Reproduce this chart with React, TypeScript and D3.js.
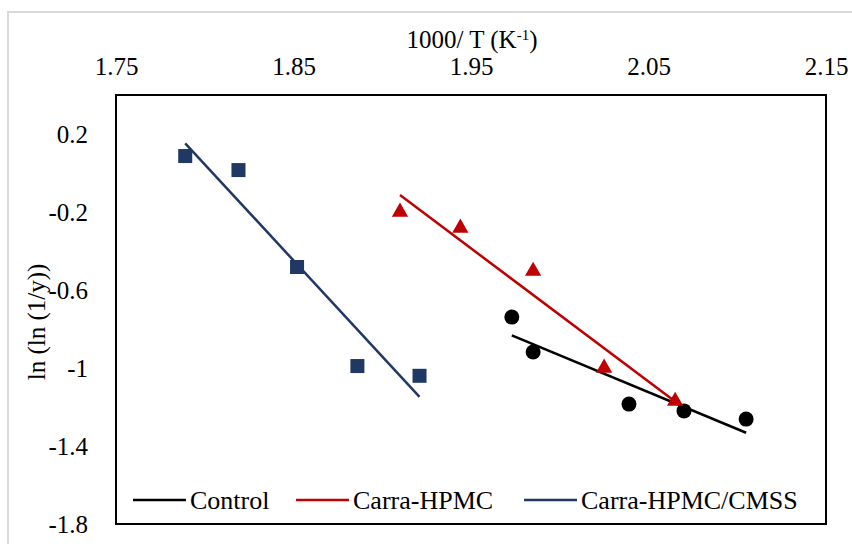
import React, { useEffect, useRef } from 'react';
import * as d3 from 'd3';

// x: 1000/T values, y: ln(ln(1/y)) values
const controlX = [1.973, 1.985, 2.039, 2.070, 2.105];
const controlY = [-0.739, -0.918, -1.185, -1.22, -1.262];

const hpmcX = [1.910, 1.944, 1.985, 2.025, 2.065];
const hpmcY = [-0.2, -0.282, -0.503, -1.0, -1.17];

const cmssX = [1.789, 1.819, 1.852, 1.886, 1.921];
const cmssY = [0.087, 0.015, -0.482, -0.99, -1.04];

const xTicks = [1.75, 1.85, 1.95, 2.05, 2.15];
const yTicks = [0.2, -0.2, -0.6, -1, -1.4, -1.8];

const seriesNames = ['Control', 'Carra-HPMC', 'Carra-HPMC/CMSS'];
const seriesColors = ['#000000', '#C00000', '#203864'];

// least squares fit, like Excel's linear trendline
const fit = (xs: number[], ys: number[]) => {
  const mx = d3.mean(xs) as number;
  const my = d3.mean(ys) as number;
  const sxy = d3.sum(xs, (x, i) => (x - mx) * (ys[i] - my));
  const sxx = d3.sum(xs, x => (x - mx) * (x - mx));
  const slope = sxy / sxx;
  return (x: number) => my + slope * (x - mx);
};

const App = () => {
  const chartRef = useRef<SVGSVGElement>(null);

  useEffect(() => {
    const W = 852;
    const H = 544;
    const margin = { top: 95, right: 26, bottom: 20, left: 116 };
    const width = W - margin.left - margin.right;
    const height = H - margin.top - margin.bottom;
    const font = '"Liberation Serif", "Times New Roman", serif';
    const fs = 25;

    const root = d3.select(chartRef.current);
    root.selectAll('*').remove();
    root.attr('width', W).attr('height', H);

    root.append('rect')
      .attr('width', W)
      .attr('height', H)
      .attr('fill', '#fff');

    // outer chart border
    root.append('rect')
      .attr('x', 8)
      .attr('y', 12)
      .attr('width', W)
      .attr('height', H)
      .attr('fill', 'none')
      .attr('stroke', '#d9d9d9')
      .attr('stroke-width', 2);

    const svg = root.append('g')
      .attr('transform', `translate(${margin.left},${margin.top})`);

    const x = d3.scaleLinear().domain([1.75, 2.15]).range([0, width]);
    const y = d3.scaleLinear().domain([-1.8, 0.4]).range([height, 0]);

    // x axis on top, no tick marks
    const xAxis = svg.append('g')
      .call(d3.axisTop(x).tickValues(xTicks).tickSize(0).tickPadding(20)
        .tickFormat(d => String(d)));
    xAxis.select('.domain').remove();
    xAxis.selectAll('text')
      .attr('font-family', font)
      .attr('font-size', fs)
      .attr('fill', '#000');

    const yAxis = svg.append('g')
      .call(d3.axisLeft(y).tickValues(yTicks).tickSize(0).tickPadding(28)
        .tickFormat(d => String(d)));
    yAxis.select('.domain').remove();
    yAxis.selectAll('text')
      .attr('font-family', font)
      .attr('font-size', fs)
      .attr('fill', '#000');

    // plot frame
    svg.append('rect')
      .attr('width', width)
      .attr('height', height)
      .attr('fill', 'none')
      .attr('stroke', '#000')
      .attr('stroke-width', 2);

    // axis titles
    const title = root.append('text')
      .attr('x', margin.left + width / 2 + 1)
      .attr('y', 48)
      .attr('text-anchor', 'middle')
      .attr('font-family', font)
      .attr('font-size', fs)
      .attr('fill', '#000');
    title.append('tspan').text('1000/ T (K');
    title.append('tspan').attr('baseline-shift', 'super').attr('font-size', 15).text('-1');
    title.append('tspan').text(')');

    root.append('text')
      .attr('transform', `translate(45,322) rotate(-90)`)
      .attr('text-anchor', 'middle')
      .attr('font-family', font)
      .attr('font-size', fs)
      .attr('fill', '#000')
      .text('ln (ln (1/y))');

    const series = [
      { xs: controlX, ys: controlY },
      { xs: hpmcX, ys: hpmcY },
      { xs: cmssX, ys: cmssY },
    ];

    series.forEach((s, k) => {
      const f = fit(s.xs, s.ys);
      const x0 = d3.min(s.xs) as number;
      const x1 = d3.max(s.xs) as number;
      svg.append('line')
        .attr('x1', x(x0))
        .attr('y1', y(f(x0)))
        .attr('x2', x(x1))
        .attr('y2', y(f(x1)))
        .attr('stroke', seriesColors[k])
        .attr('stroke-width', 2.5);
    });

    // markers
    const pts = (s: { xs: number[]; ys: number[] }) =>
      s.xs.map((v, i) => [v, s.ys[i]] as [number, number]);

    svg.selectAll('.ctrl')
      .data(pts(series[0]))
      .enter()
      .append('circle')
      .attr('cx', d => x(d[0]))
      .attr('cy', d => y(d[1]))
      .attr('r', 7.5)
      .attr('fill', seriesColors[0]);

    const tri = d3.symbol().type(d3.symbolTriangle).size(115);
    svg.selectAll('.hpmc')
      .data(pts(series[1]))
      .enter()
      .append('path')
      .attr('d', tri)
      .attr('transform', d => `translate(${x(d[0])},${y(d[1])})`)
      .attr('fill', seriesColors[1]);

    svg.selectAll('.cmss')
      .data(pts(series[2]))
      .enter()
      .append('rect')
      .attr('x', d => x(d[0]) - 7)
      .attr('y', d => y(d[1]) - 7)
      .attr('width', 14)
      .attr('height', 14)
      .attr('fill', seriesColors[2]);

    // legend
    const legendX = [133, 296, 524];
    const legendY = 500;
    seriesNames.forEach((name, k) => {
      root.append('line')
        .attr('x1', legendX[k])
        .attr('x2', legendX[k] + 53)
        .attr('y1', legendY)
        .attr('y2', legendY)
        .attr('stroke', seriesColors[k])
        .attr('stroke-width', 2.5);
      root.append('text')
        .attr('x', legendX[k] + 57)
        .attr('y', legendY + 9)
        .attr('font-family', font)
        .attr('font-size', 26)
        .attr('fill', '#000')
        .text(name);
    });
  }, []);

  return (
    <div style={{ position: 'absolute', left: 0, top: 0 }}>
      <svg ref={chartRef} style={{ display: 'block' }}></svg>
    </div>
  );
};

export default App;
